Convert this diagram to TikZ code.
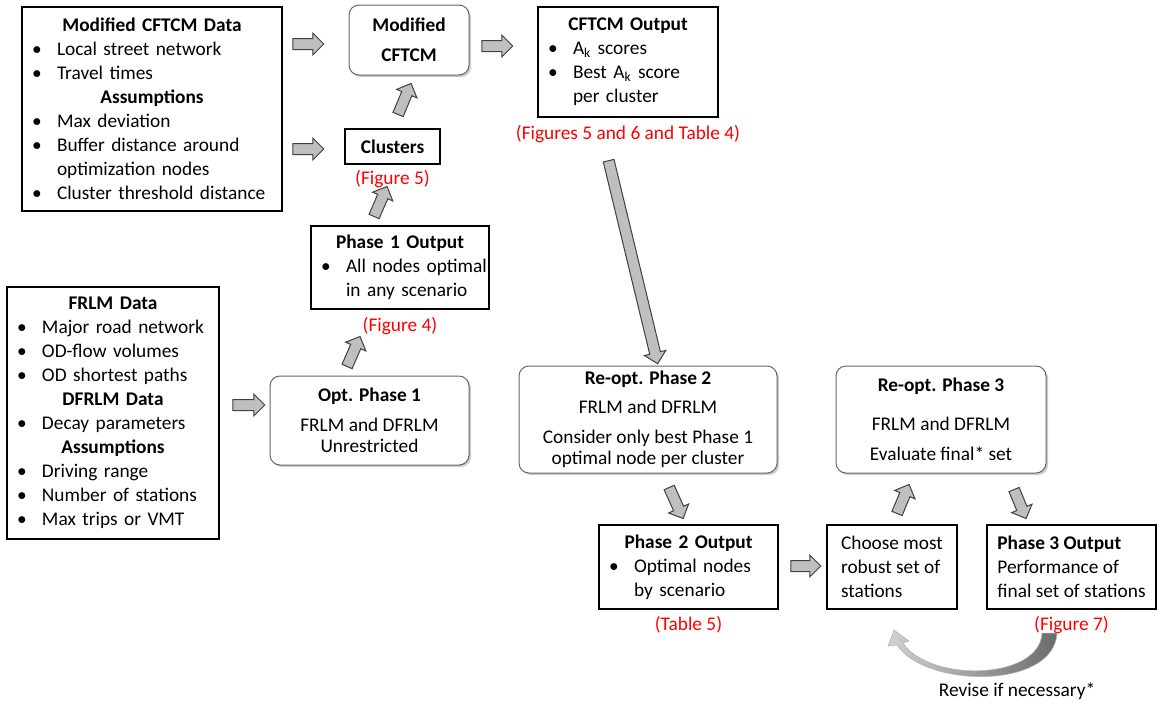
\documentclass[tikz,border=0pt]{standalone}
\usepackage{fontspec}
\setmainfont{Carlito}
\usetikzlibrary{positioning,calc,shapes.arrows,shadows}

\definecolor{figred}{RGB}{255,0,0}
\definecolor{arrfill}{RGB}{191,191,191}
\definecolor{arrdraw}{RGB}{64,64,64}

% bullet lines and centred headings inside the data boxes
\newcommand\itm[1]{\hspace*{6pt}\makebox[15pt][l]{\textbullet}\mbox{#1}}
\newcommand\cont[1]{\hspace*{21pt}\mbox{#1}}
\newcommand\hd[1]{\makebox[\linewidth]{\bfseries #1}}
% block arrow from one named point to another
\newcommand\barrow[2]{\path let \p1=($(#2)-(#1)$), \n1={veclen(\x1,\y1)}, \n2={atan2(\y1,\x1)}
  in node[blockarrow, minimum height=\n1, rotate=\n2] at ($(#1)!0.5!(#2)$) {};}

\tikzset{
  every node/.style={font=\fontsize{11.6}{14.4}\selectfont},
  databox/.style={draw, line width=0.8pt, inner xsep=0pt, inner ysep=0pt, align=left},
  outbox/.style={draw, line width=0.8pt, inner sep=0pt, align=left},
  phasebox/.style={draw=black!60, line width=0.6pt, rounded corners=6pt, fill=white,
    align=center, inner sep=0pt,
    drop shadow={shadow xshift=1.2pt, shadow yshift=-1.2pt, fill=black!40, opacity=0.5}},
  figlabel/.style={text=figred, inner sep=0pt},
  blockarrow/.style={single arrow, draw=arrdraw, fill=arrfill, line width=0.6pt,
    inner xsep=0pt, inner ysep=3pt, single arrow head extend=3.3pt},
}

\begin{document}
\begin{tikzpicture}[x=0.6pt, y=0.6pt]
\useasboundingbox (0,0) rectangle (1158,-704);

% data boxes
\node[databox, text width=156pt, minimum height=122.4pt] (cftdata) at (152,-109) {%
  \hd{Modified CFTCM Data}\\
  \itm{Local street network}\\
  \itm{Travel times}\\
  \hd{Assumptions}\\
  \itm{Max deviation}\\
  \itm{Buffer distance around}\\
  \cont{optimization nodes}\\
  \itm{Cluster threshold distance}};
\node[databox, text width=127.2pt, minimum height=151.2pt] (frlmdata) at (113,-413) {%
  \hd{FRLM Data}\\
  \itm{Major road network}\\
  \itm{OD-flow volumes}\\
  \itm{OD shortest paths}\\
  \hd{DFRLM Data}\\
  \itm{Decay parameters}\\
  \hd{Assumptions}\\
  \itm{Driving range}\\
  \itm{Number of stations}\\
  \itm{Max trips or VMT}};

% models
\node[phasebox, minimum width=72pt, minimum height=42pt, font=\fontsize{11.6}{14.4}\selectfont\bfseries]
  (cftcm) at (409,-40) {Modified\\[3.6pt]CFTCM};
\node[phasebox, minimum width=119.4pt, minimum height=53.4pt] (opt1) at (369.5,-420.5)
  {\textbf{Opt. Phase 1}\\[3.6pt]FRLM and DFRLM\\[-1.8pt]Unrestricted};
\node[phasebox, minimum width=154.8pt, minimum height=64.2pt] (reopt2) at (648,-419.5)
  {\textbf{Re-opt. Phase 2}\\[3pt]FRLM and DFRLM\\[3.6pt]Consider only best Phase 1\\[-1.8pt]optimal node per cluster};
\node[phasebox, minimum width=126pt, minimum height=64.2pt] (reopt3) at (941,-419.5)
  {\textbf{Re-opt. Phase 3}\\[9pt]FRLM and DFRLM\\[3.6pt]Evaluate final* set};

% outputs
\node[databox, text width=108pt, minimum height=66pt] (cftout) at (628,-62) {%
  \hd{CFTCM Output}\\
  \itm{A\textsubscript{k} scores}\\
  \itm{Best A\textsubscript{k} score}\\
  \cont{per cluster}};
\node[databox, minimum width=57pt, minimum height=21pt, font=\fontsize{11.6}{14.4}\selectfont\bfseries]
  (clusters) at (392.5,-146.5) {Clusters};
\node[databox, text width=106.8pt, minimum height=49.8pt] (p1out) at (400,-267.5) {%
  \hd{Phase 1 Output}\\
  \itm{All nodes optimal}\\
  \cont{in any scenario}};
\node[databox, text width=107.4pt, minimum height=50.4pt] (p2out) at (688.5,-567) {%
  \hd{Phase 2 Output}\\
  \itm{Optimal nodes}\\
  \cont{by scenario}};
\node[outbox, minimum width=78pt, minimum height=50.4pt] (choose) at (892,-567)
  {Choose most\\robust set of\\stations};
\node[outbox, minimum width=101.4pt, minimum height=50.4pt] (p3out) at (1071.5,-567)
  {\textbf{Phase 3 Output}\\Performance of\\final set of stations};

% references to figures and tables
\node[figlabel, below=4.5pt of cftout] (cftoutref) {(Figures 5 and 6 and Table 4)};
\node[figlabel, below=3pt of clusters] (clustersref) {(Figure 5)};
\node[figlabel, below=4.5pt of p1out] (p1outref) {(Figure 4)};
\node[figlabel, below=4pt of p2out] (p2outref) {(Table 5)};
\node[figlabel, below=4pt of p3out] (p3outref) {(Figure 7)};

% block arrows
\coordinate (a1s) at (290,-44);   \coordinate (a1e) at (321,-44);
\coordinate (a2s) at (290,-149);  \coordinate (a2e) at (321,-149);
\coordinate (a3s) at (479,-46);   \coordinate (a3e) at (510,-46);
\coordinate (a4s) at (397,-117);  \coordinate (a4e) at (410,-86);
\coordinate (a5s) at (373,-219);  \coordinate (a5e) at (386,-189);
\coordinate (a6s) at (346,-369);  \coordinate (a6e) at (359,-339);
\coordinate (a7s) at (230,-405);  \coordinate (a7e) at (262,-405);
\coordinate (a8s) at (608,-158);  \coordinate (a8e) at (657,-361);
\coordinate (a9s) at (668,-485);  \coordinate (a9e) at (682,-516);
\coordinate (a10s) at (788,-566); \coordinate (a10e) at (818,-566);
\coordinate (a11s) at (896,-516); \coordinate (a11e) at (908,-487);
\coordinate (a12s) at (1013,-487);\coordinate (a12e) at (1025,-516);
\barrow{a1s}{a1e}
\barrow{a2s}{a2e}
\barrow{a3s}{a3e}
\barrow{a4s}{a4e}
\barrow{a5s}{a5e}
\barrow{a6s}{a6e}
\barrow{a7s}{a7e}
\barrow{a8s}{a8e}
\barrow{a9s}{a9e}
\barrow{a10s}{a10e}
\barrow{a11s}{a11e}
\barrow{a12s}{a12e}

% revise loop
\path[left color=black!18, right color=black!58, draw=black!30, line width=0.3pt]
  (1042,-633) -- (1057,-633) .. controls (1054,-690) and (925,-688) .. (897,-645)
  -- (888,-646) -- (894,-630) -- (909,-641) -- (903,-643)
  .. controls (930,-683) and (1040,-680) .. (1042,-633) -- cycle;
\node (revise) at (1017,-691) {Revise if necessary*};
\end{tikzpicture}
\end{document}
